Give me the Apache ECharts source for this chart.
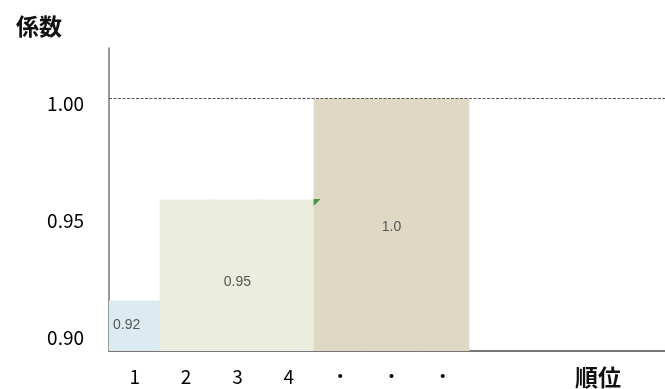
<!DOCTYPE html>
<html>
<head>
<meta charset="utf-8">
<script src="https://cdn.jsdelivr.net/npm/echarts@6/dist/echarts.min.js"></script>
<style>
html,body{margin:0;padding:0;background:#fff;}
#main{width:665px;height:389px;}
</style>
</head>
<body>
<div id="main"></div>
<script>
// 順位ごとの係数
var categories = ['1', '2', '3', '4', '・', '・', '・', '', '', '', ''];
var coefs = [0.92, 0.96, 0.96, 0.96, 1.00, 1.00, 1.00];
var groups = [0, 1, 1, 1, 2, 2, 2];
var barTexts = ['0.92', '', '0.95', '', '', '1.0', ''];
var yTicks = [0.90, 0.95, 1.00];
var refLine = 1.00;

var groupColors = ['#dbebf1', '#ebeedf', '#ded8c5'];
var labelOffsets = [[-1, -14], null, [0, 7], null, null, [0, 2], null];

var barData = coefs.map(function (v, i) {
    var c = groupColors[groups[i]];
    var item = {value: v, itemStyle: {color: c}};
    if (barTexts[i]) {
        item.label = {
            show: true,
            formatter: barTexts[i],
            position: i == 0 ? 'insideBottomLeft' : 'inside',
            distance: 5,
            offset: labelOffsets[i],
            color: '#555',
            fontSize: 14,
            fontFamily: 'Liberation Sans'
        };
    }
    return item;
});

var chart = echarts.init(document.getElementById('main'));
var option = {
    animation: false,
    title: [
        {
            text: '係数',
            left: 11, top: 10,
            textStyle: {color: '#111', fontSize: 23, fontWeight: 'bold', fontFamily: 'Noto Sans CJK JP'}
        },
        {
            text: '順位',
            left: 570, top: 361,
            textStyle: {color: '#111', fontSize: 23, fontWeight: 'bold', fontFamily: 'Noto Sans CJK JP'}
        }
    ],
    grid: {left: 109, top: 48, height: 303, width: 565, outerBoundsMode: 'none', containLabel: false},
    xAxis: {
        type: 'category',
        data: categories,
        boundaryGap: true,
        axisLine: {lineStyle: {color: '#777', width: 2}},
        axisTick: {show: false},
        axisLabel: {
            interval: 0,
            margin: 16,
            color: '#000',
            fontSize: 19,
            fontFamily: 'Noto Sans CJK JP'
        }
    },
    yAxis: [
        {
            type: 'value',
            min: 0.90,
            max: 1.02,
            axisLine: {show: true, lineStyle: {color: '#777', width: 1.5}},
            axisTick: {show: false},
            axisLabel: {show: false},
            splitLine: {show: false}
        },
        {
            type: 'value',
            position: 'left',
            offset: 0,
            min: 0.8944,
            max: 1.0239,
            axisLine: {show: false},
            axisTick: {show: false},
            splitLine: {show: false},
            axisLabel: {
                customValues: yTicks,
                margin: 25,
                color: '#000',
                fontSize: 19,
                fontFamily: 'Noto Sans CJK JP',
                formatter: function (v) { return v.toFixed(2); }
            }
        }
    ],
    series: [
        {
            type: 'bar',
            data: barData,
            barWidth: '103%',
            barCategoryGap: 0,
            z: 1,
            markLine: {
                silent: true,
                symbol: 'none',
                label: {show: false},
                lineStyle: {color: '#555', type: [3, 1.5], width: 1},
                data: [{yAxis: refLine}]
            }
        },
        {
            type: 'scatter',
            data: [[4, coefs[3]]],
            symbol: 'path://M0,0L10,0L0,10Z',
            symbolSize: 7,
            symbolOffset: [-23, 3],
            itemStyle: {color: '#1b8a1b'},
            silent: true,
            z: 3
        }
    ]
};
chart.setOption(option);
</script>
</body>
</html>
